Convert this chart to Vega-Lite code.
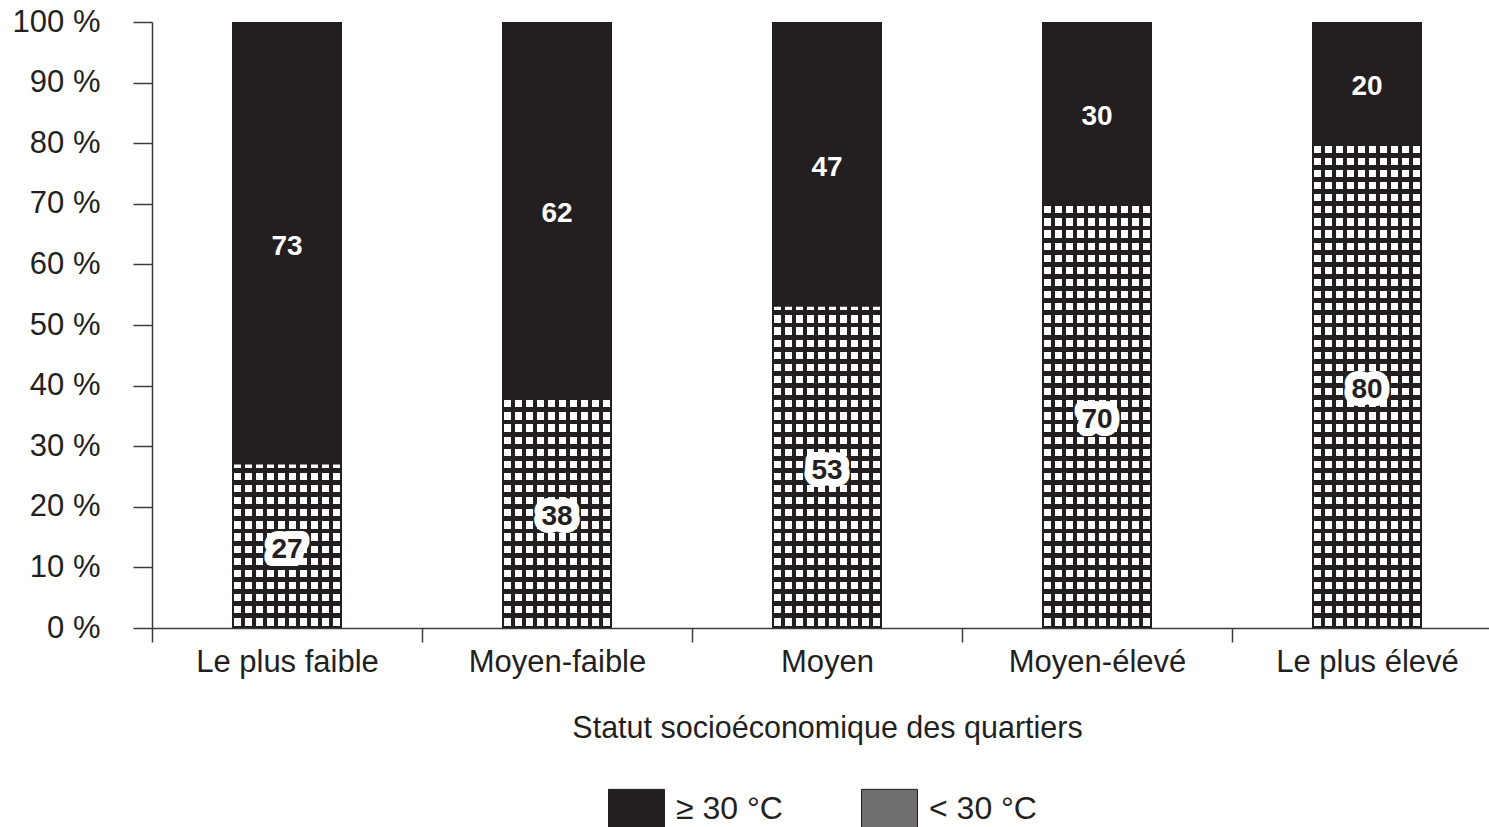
{
  "$schema": "https://vega.github.io/schema/vega-lite/v6.json",
  "width": 1337,
  "height": 606,
  "autosize": {"type": "none"},
  "padding": {"left": 152, "top": 22, "right": 0, "bottom": 199},
  "background": "white",
  "config": {
    "view": {"stroke": null},
    "font": "Liberation Sans",
    "axis": {"domainColor": "#3c3c3c", "tickColor": "#3c3c3c", "domainWidth": 1.5, "tickWidth": 1.5, "labelColor": "#231f20", "labelFontSize": 31, "labelFont": "Liberation Sans", "labelLimit": 0, "titleColor": "#231f20", "titleFontSize": 30.5, "titleFont": "Liberation Sans", "titleFontWeight": "normal", "grid": false},
    "axisY": {"tickSize": 19, "labelPadding": 33},
    "axisX": {"tickSize": 14, "labelPadding": 5, "tickBand": "extent", "labelAngle": 0, "titlePadding": 36}
  },
  "data": {
    "values": [
      {"category": "Le plus faible", "group": "< 30 °C", "value": 27},
      {"category": "Le plus faible", "group": "≥ 30 °C", "value": 73},
      {"category": "Moyen-faible", "group": "< 30 °C", "value": 38},
      {"category": "Moyen-faible", "group": "≥ 30 °C", "value": 62},
      {"category": "Moyen", "group": "< 30 °C", "value": 53},
      {"category": "Moyen", "group": "≥ 30 °C", "value": 47},
      {"category": "Moyen-élevé", "group": "< 30 °C", "value": 70},
      {"category": "Moyen-élevé", "group": "≥ 30 °C", "value": 30},
      {"category": "Le plus élevé", "group": "< 30 °C", "value": 80},
      {"category": "Le plus élevé", "group": "≥ 30 °C", "value": 20}
    ]
  },
  "encoding": {
    "x": {
      "field": "category", "type": "nominal",
      "sort": ["Le plus faible", "Moyen-faible", "Moyen", "Moyen-élevé", "Le plus élevé"],
      "scale": {"range": [0, 1350], "paddingInner": 0, "paddingOuter": 0},
      "axis": {"title": "Statut socioéconomique des quartiers"}
    }
  },
  "layer": [
    {
      "mark": {"type": "bar", "width": 110},
      "encoding": {
        "y": {"field": "value", "type": "quantitative", "stack": "zero", "title": null, "scale": {"domain": [0, 100], "nice": false}, "axis": {"title": null, "tickCount": 10, "labelExpr": "datum.value + ' %'"}},
        "color": {
          "field": "group", "type": "nominal",
          "scale": {"domain": ["≥ 30 °C", "< 30 °C"], "range": ["#231f20", "#6f6d6e"]},
          "legend": {
            "title": null, "orient": "none", "legendX": 456, "legendY": 758, "direction": "horizontal",
            "symbolType": "M-1,-0.7L1,-0.7L1,0.7L-1,0.7Z", "symbolSize": 3136,
            "symbolStrokeColor": "#231f20", "symbolStrokeWidth": 1, "symbolOpacity": 1,
            "labelFontSize": 32, "labelColor": "#231f20", "labelFont": "Liberation Sans", "labelOffset": 11, "columnPadding": 76
          }
        },
        "order": {"field": "group", "sort": "ascending"}
      }
    },
    {
      "mark": {"type": "bar", "width": 110, "fill": {"gradient": "linear", "x1": 0, "y1": 0, "x2": 1, "y2": 0, "stops": [
        {"offset": 0, "color": "#231f20"},
        {"offset": 0.02, "color": "#231f20"}, {"offset": 0.02, "color": "white"}, {"offset": 0.08, "color": "white"}, {"offset": 0.08, "color": "#231f20"},
        {"offset": 0.12, "color": "#231f20"}, {"offset": 0.12, "color": "white"}, {"offset": 0.18, "color": "white"}, {"offset": 0.18, "color": "#231f20"},
        {"offset": 0.22, "color": "#231f20"}, {"offset": 0.22, "color": "white"}, {"offset": 0.28, "color": "white"}, {"offset": 0.28, "color": "#231f20"},
        {"offset": 0.32, "color": "#231f20"}, {"offset": 0.32, "color": "white"}, {"offset": 0.38, "color": "white"}, {"offset": 0.38, "color": "#231f20"},
        {"offset": 0.42, "color": "#231f20"}, {"offset": 0.42, "color": "white"}, {"offset": 0.48, "color": "white"}, {"offset": 0.48, "color": "#231f20"},
        {"offset": 0.52, "color": "#231f20"}, {"offset": 0.52, "color": "white"}, {"offset": 0.58, "color": "white"}, {"offset": 0.58, "color": "#231f20"},
        {"offset": 0.62, "color": "#231f20"}, {"offset": 0.62, "color": "white"}, {"offset": 0.68, "color": "white"}, {"offset": 0.68, "color": "#231f20"},
        {"offset": 0.72, "color": "#231f20"}, {"offset": 0.72, "color": "white"}, {"offset": 0.78, "color": "white"}, {"offset": 0.78, "color": "#231f20"},
        {"offset": 0.82, "color": "#231f20"}, {"offset": 0.82, "color": "white"}, {"offset": 0.88, "color": "white"}, {"offset": 0.88, "color": "#231f20"},
        {"offset": 0.92, "color": "#231f20"}, {"offset": 0.92, "color": "white"}, {"offset": 0.98, "color": "white"}, {"offset": 0.98, "color": "#231f20"},
        {"offset": 1, "color": "#231f20"}
      ]}},
      "encoding": {
        "y": {"aggregate": "sum", "field": "value", "type": "quantitative", "title": null, "scale": {"domain": [0, 100], "nice": false}, "axis": {"title": null, "tickCount": 10, "labelExpr": "datum.value + ' %'"}}
      }
    },
    {
      "mark": {"type": "bar", "width": 110, "fill": {"gradient": "linear", "x1": 0, "y1": 0, "x2": 0, "y2": 1, "stops": [
        {"offset": 0, "color": "#231f20"},
        {"offset": 0.004, "color": "#231f20"}, {"offset": 0.004, "color": "transparent"}, {"offset": 0.016, "color": "transparent"}, {"offset": 0.016, "color": "#231f20"},
        {"offset": 0.024, "color": "#231f20"}, {"offset": 0.024, "color": "transparent"}, {"offset": 0.036, "color": "transparent"}, {"offset": 0.036, "color": "#231f20"},
        {"offset": 0.044, "color": "#231f20"}, {"offset": 0.044, "color": "transparent"}, {"offset": 0.056, "color": "transparent"}, {"offset": 0.056, "color": "#231f20"},
        {"offset": 0.064, "color": "#231f20"}, {"offset": 0.064, "color": "transparent"}, {"offset": 0.076, "color": "transparent"}, {"offset": 0.076, "color": "#231f20"},
        {"offset": 0.084, "color": "#231f20"}, {"offset": 0.084, "color": "transparent"}, {"offset": 0.096, "color": "transparent"}, {"offset": 0.096, "color": "#231f20"},
        {"offset": 0.104, "color": "#231f20"}, {"offset": 0.104, "color": "transparent"}, {"offset": 0.116, "color": "transparent"}, {"offset": 0.116, "color": "#231f20"},
        {"offset": 0.124, "color": "#231f20"}, {"offset": 0.124, "color": "transparent"}, {"offset": 0.136, "color": "transparent"}, {"offset": 0.136, "color": "#231f20"},
        {"offset": 0.144, "color": "#231f20"}, {"offset": 0.144, "color": "transparent"}, {"offset": 0.156, "color": "transparent"}, {"offset": 0.156, "color": "#231f20"},
        {"offset": 0.164, "color": "#231f20"}, {"offset": 0.164, "color": "transparent"}, {"offset": 0.176, "color": "transparent"}, {"offset": 0.176, "color": "#231f20"},
        {"offset": 0.184, "color": "#231f20"}, {"offset": 0.184, "color": "transparent"}, {"offset": 0.196, "color": "transparent"}, {"offset": 0.196, "color": "#231f20"},
        {"offset": 0.204, "color": "#231f20"}, {"offset": 0.204, "color": "transparent"}, {"offset": 0.216, "color": "transparent"}, {"offset": 0.216, "color": "#231f20"},
        {"offset": 0.224, "color": "#231f20"}, {"offset": 0.224, "color": "transparent"}, {"offset": 0.236, "color": "transparent"}, {"offset": 0.236, "color": "#231f20"},
        {"offset": 0.244, "color": "#231f20"}, {"offset": 0.244, "color": "transparent"}, {"offset": 0.256, "color": "transparent"}, {"offset": 0.256, "color": "#231f20"},
        {"offset": 0.264, "color": "#231f20"}, {"offset": 0.264, "color": "transparent"}, {"offset": 0.276, "color": "transparent"}, {"offset": 0.276, "color": "#231f20"},
        {"offset": 0.284, "color": "#231f20"}, {"offset": 0.284, "color": "transparent"}, {"offset": 0.296, "color": "transparent"}, {"offset": 0.296, "color": "#231f20"},
        {"offset": 0.304, "color": "#231f20"}, {"offset": 0.304, "color": "transparent"}, {"offset": 0.316, "color": "transparent"}, {"offset": 0.316, "color": "#231f20"},
        {"offset": 0.324, "color": "#231f20"}, {"offset": 0.324, "color": "transparent"}, {"offset": 0.336, "color": "transparent"}, {"offset": 0.336, "color": "#231f20"},
        {"offset": 0.344, "color": "#231f20"}, {"offset": 0.344, "color": "transparent"}, {"offset": 0.356, "color": "transparent"}, {"offset": 0.356, "color": "#231f20"},
        {"offset": 0.364, "color": "#231f20"}, {"offset": 0.364, "color": "transparent"}, {"offset": 0.376, "color": "transparent"}, {"offset": 0.376, "color": "#231f20"},
        {"offset": 0.384, "color": "#231f20"}, {"offset": 0.384, "color": "transparent"}, {"offset": 0.396, "color": "transparent"}, {"offset": 0.396, "color": "#231f20"},
        {"offset": 0.404, "color": "#231f20"}, {"offset": 0.404, "color": "transparent"}, {"offset": 0.416, "color": "transparent"}, {"offset": 0.416, "color": "#231f20"},
        {"offset": 0.424, "color": "#231f20"}, {"offset": 0.424, "color": "transparent"}, {"offset": 0.436, "color": "transparent"}, {"offset": 0.436, "color": "#231f20"},
        {"offset": 0.444, "color": "#231f20"}, {"offset": 0.444, "color": "transparent"}, {"offset": 0.456, "color": "transparent"}, {"offset": 0.456, "color": "#231f20"},
        {"offset": 0.464, "color": "#231f20"}, {"offset": 0.464, "color": "transparent"}, {"offset": 0.476, "color": "transparent"}, {"offset": 0.476, "color": "#231f20"},
        {"offset": 0.484, "color": "#231f20"}, {"offset": 0.484, "color": "transparent"}, {"offset": 0.496, "color": "transparent"}, {"offset": 0.496, "color": "#231f20"},
        {"offset": 0.504, "color": "#231f20"}, {"offset": 0.504, "color": "transparent"}, {"offset": 0.516, "color": "transparent"}, {"offset": 0.516, "color": "#231f20"},
        {"offset": 0.524, "color": "#231f20"}, {"offset": 0.524, "color": "transparent"}, {"offset": 0.536, "color": "transparent"}, {"offset": 0.536, "color": "#231f20"},
        {"offset": 0.544, "color": "#231f20"}, {"offset": 0.544, "color": "transparent"}, {"offset": 0.556, "color": "transparent"}, {"offset": 0.556, "color": "#231f20"},
        {"offset": 0.564, "color": "#231f20"}, {"offset": 0.564, "color": "transparent"}, {"offset": 0.576, "color": "transparent"}, {"offset": 0.576, "color": "#231f20"},
        {"offset": 0.584, "color": "#231f20"}, {"offset": 0.584, "color": "transparent"}, {"offset": 0.596, "color": "transparent"}, {"offset": 0.596, "color": "#231f20"},
        {"offset": 0.604, "color": "#231f20"}, {"offset": 0.604, "color": "transparent"}, {"offset": 0.616, "color": "transparent"}, {"offset": 0.616, "color": "#231f20"},
        {"offset": 0.624, "color": "#231f20"}, {"offset": 0.624, "color": "transparent"}, {"offset": 0.636, "color": "transparent"}, {"offset": 0.636, "color": "#231f20"},
        {"offset": 0.644, "color": "#231f20"}, {"offset": 0.644, "color": "transparent"}, {"offset": 0.656, "color": "transparent"}, {"offset": 0.656, "color": "#231f20"},
        {"offset": 0.664, "color": "#231f20"}, {"offset": 0.664, "color": "transparent"}, {"offset": 0.676, "color": "transparent"}, {"offset": 0.676, "color": "#231f20"},
        {"offset": 0.684, "color": "#231f20"}, {"offset": 0.684, "color": "transparent"}, {"offset": 0.696, "color": "transparent"}, {"offset": 0.696, "color": "#231f20"},
        {"offset": 0.704, "color": "#231f20"}, {"offset": 0.704, "color": "transparent"}, {"offset": 0.716, "color": "transparent"}, {"offset": 0.716, "color": "#231f20"},
        {"offset": 0.724, "color": "#231f20"}, {"offset": 0.724, "color": "transparent"}, {"offset": 0.736, "color": "transparent"}, {"offset": 0.736, "color": "#231f20"},
        {"offset": 0.744, "color": "#231f20"}, {"offset": 0.744, "color": "transparent"}, {"offset": 0.756, "color": "transparent"}, {"offset": 0.756, "color": "#231f20"},
        {"offset": 0.764, "color": "#231f20"}, {"offset": 0.764, "color": "transparent"}, {"offset": 0.776, "color": "transparent"}, {"offset": 0.776, "color": "#231f20"},
        {"offset": 0.784, "color": "#231f20"}, {"offset": 0.784, "color": "transparent"}, {"offset": 0.796, "color": "transparent"}, {"offset": 0.796, "color": "#231f20"},
        {"offset": 0.804, "color": "#231f20"}, {"offset": 0.804, "color": "transparent"}, {"offset": 0.816, "color": "transparent"}, {"offset": 0.816, "color": "#231f20"},
        {"offset": 0.824, "color": "#231f20"}, {"offset": 0.824, "color": "transparent"}, {"offset": 0.836, "color": "transparent"}, {"offset": 0.836, "color": "#231f20"},
        {"offset": 0.844, "color": "#231f20"}, {"offset": 0.844, "color": "transparent"}, {"offset": 0.856, "color": "transparent"}, {"offset": 0.856, "color": "#231f20"},
        {"offset": 0.864, "color": "#231f20"}, {"offset": 0.864, "color": "transparent"}, {"offset": 0.876, "color": "transparent"}, {"offset": 0.876, "color": "#231f20"},
        {"offset": 0.884, "color": "#231f20"}, {"offset": 0.884, "color": "transparent"}, {"offset": 0.896, "color": "transparent"}, {"offset": 0.896, "color": "#231f20"},
        {"offset": 0.904, "color": "#231f20"}, {"offset": 0.904, "color": "transparent"}, {"offset": 0.916, "color": "transparent"}, {"offset": 0.916, "color": "#231f20"},
        {"offset": 0.924, "color": "#231f20"}, {"offset": 0.924, "color": "transparent"}, {"offset": 0.936, "color": "transparent"}, {"offset": 0.936, "color": "#231f20"},
        {"offset": 0.944, "color": "#231f20"}, {"offset": 0.944, "color": "transparent"}, {"offset": 0.956, "color": "transparent"}, {"offset": 0.956, "color": "#231f20"},
        {"offset": 0.964, "color": "#231f20"}, {"offset": 0.964, "color": "transparent"}, {"offset": 0.976, "color": "transparent"}, {"offset": 0.976, "color": "#231f20"},
        {"offset": 0.984, "color": "#231f20"}, {"offset": 0.984, "color": "transparent"}, {"offset": 0.996, "color": "transparent"}, {"offset": 0.996, "color": "#231f20"},
        {"offset": 1, "color": "#231f20"}
      ]}},
      "encoding": {
        "y": {"aggregate": "sum", "field": "value", "type": "quantitative", "title": null, "scale": {"domain": [0, 100], "nice": false}, "axis": {"title": null, "tickCount": 10, "labelExpr": "datum.value + ' %'"}}
      }
    },
    {
      "mark": {"type": "bar", "width": 110},
      "encoding": {
        "y": {"field": "value", "type": "quantitative", "stack": "zero", "title": null, "scale": {"domain": [0, 100], "nice": false}, "axis": {"title": null, "tickCount": 10, "labelExpr": "datum.value + ' %'"}},
        "fill": {"condition": {"test": "datum.group === '≥ 30 °C'", "value": "#231f20"}, "value": "transparent"},
        "order": {"field": "group", "sort": "ascending"}
      }
    },
    {
      "transform": [
        {"stack": "value", "groupby": ["category"], "sort": [{"field": "group", "order": "ascending"}], "as": ["v0", "v1"]},
        {"calculate": "(datum.v0 + datum.v1) / 2", "as": "mid"}
      ],
      "layer": [
        {
          "transform": [{"filter": "datum.group === '< 30 °C'"}],
          "mark": {"type": "text", "fontSize": 28, "fontWeight": "bold", "font": "Liberation Sans", "dy": 4, "fill": "white", "stroke": "white", "strokeWidth": 16, "strokeJoin": "round"},
          "encoding": {
            "y": {"field": "mid", "type": "quantitative", "title": null, "scale": {"domain": [0, 100], "nice": false}, "axis": {"title": null, "tickCount": 10, "labelExpr": "datum.value + ' %'"}},
            "text": {"field": "value", "type": "quantitative"}
          }
        },
        {
          "mark": {"type": "text", "fontSize": 28, "fontWeight": "bold", "font": "Liberation Sans", "dy": 4},
          "encoding": {
            "y": {"field": "mid", "type": "quantitative", "title": null, "scale": {"domain": [0, 100], "nice": false}, "axis": {"title": null, "tickCount": 10, "labelExpr": "datum.value + ' %'"}},
            "text": {"field": "value", "type": "quantitative"},
            "color": {"condition": {"test": "datum.group === '≥ 30 °C'", "value": "white"}, "value": "#231f20"}
          }
        }
      ]
    }
  ]
}
